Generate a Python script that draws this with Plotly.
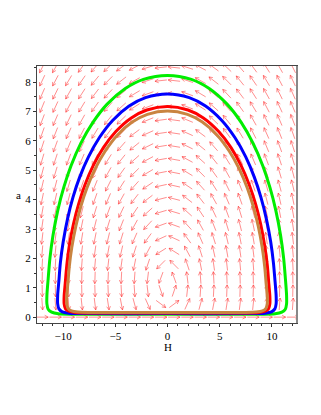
import numpy as np
import plotly.graph_objects as go

# axis view and ticks
x_range = [-12.5, 12.4]
y_range = [-0.2, 8.55]
x_ticks = [-10, -5, 0, 5, 10]
y_ticks = [0, 1, 2, 3, 4, 5, 6, 7, 8]

# direction field grid (dfieldplot style, 20 x 20)
H_grid = np.linspace(-12, 12, 20)
a_grid = np.linspace(0, 8.5, 20)
field_K, field_c, field_e = 2.2, 1.1, 0.3

# trajectories (closed loops: top -> left -> bottom -> right -> top)
green_H = [0, -2.31, -4.04, -5.78, -7.16, -8.32, -9.24, -9.93, -10.51, -10.97, -11.26, -11.43,
           -11.55, -11.55, -11.43, -11.1, -10.45, -9.0, 0,
           8.9, 10.3, 10.95, 11.28, 11.4, 11.4,
           11.29, 11.12, 10.83, 10.37, 9.80, 9.12, 8.21, 7.07, 5.7, 3.99, 2.28, 0]
green_a = [8.23, 8.095, 7.785, 7.252, 6.623, 5.908, 5.154, 4.424, 3.634, 2.778, 2.011, 1.306,
           0.75, 0.45, 0.27, 0.17, 0.115, 0.10, 0.10,
           0.10, 0.115, 0.17, 0.27, 0.45, 0.75,
           1.306, 2.011, 2.778, 3.634, 4.424, 5.154, 5.908, 6.623, 7.252, 7.785, 8.095, 8.23]

blue_H = [0, -2.10, -3.68, -5.26, -6.52, -7.57, -8.42, -9.05, -9.57, -9.99, -10.26, -10.41,
          -10.52, -10.52, -10.4, -10.08, -9.45, -8.0, 0,
          7.9, 9.33, 9.96, 10.28, 10.4, 10.4,
          10.30, 10.14, 9.88, 9.46, 8.94, 8.32, 7.49, 6.45, 5.2, 3.64, 2.08, 0]
blue_a = [7.6, 7.475, 7.189, 6.697, 6.116, 5.456, 4.759, 4.086, 3.356, 2.565, 1.857, 1.206,
          0.75, 0.45, 0.28, 0.18, 0.135, 0.12, 0.12,
          0.12, 0.135, 0.18, 0.28, 0.45, 0.75,
          1.206, 1.857, 2.565, 3.356, 4.086, 4.759, 5.456, 6.116, 6.697, 7.189, 7.475, 7.6]

red_H = [0, -1.98, -3.47, -4.95, -6.14, -7.13, -7.92, -8.51, -9.01, -9.41, -9.65, -9.80,
         -9.9, -9.9, -9.78, -9.45, -8.85, -7.5, 0,
         7.4, 8.75, 9.35, 9.68, 9.8, 9.8,
         9.70, 9.56, 9.31, 8.92, 8.43, 7.84, 7.06, 6.08, 4.9, 3.43, 1.96, 0]
red_a = [7.17, 7.052, 6.782, 6.318, 5.770, 5.147, 4.490, 3.855, 3.166, 2.420, 1.752, 1.138,
         0.72, 0.45, 0.29, 0.2, 0.155, 0.14, 0.14,
         0.14, 0.155, 0.2, 0.29, 0.45, 0.72,
         1.138, 1.752, 2.420, 3.166, 3.855, 4.490, 5.147, 5.770, 6.318, 6.782, 7.052, 7.17]

orange_H = [0, -1.93, -3.38, -4.83, -5.98, -6.95, -7.72, -8.30, -8.78, -9.17, -9.41, -9.55,
            -9.65, -9.65, -9.53, -9.2, -8.6, -7.3, 0,
            7.2, 8.5, 9.1, 9.43, 9.55, 9.55,
            9.45, 9.31, 9.07, 8.69, 8.21, 7.64, 6.88, 5.92, 4.78, 3.34, 1.91, 0]
orange_a = [7.02, 6.905, 6.640, 6.186, 5.649, 5.040, 4.396, 3.774, 3.100, 2.369, 1.716, 1.114,
            0.72, 0.45, 0.3, 0.21, 0.172, 0.16, 0.16,
            0.16, 0.172, 0.21, 0.3, 0.45, 0.72,
            1.114, 1.716, 2.369, 3.100, 3.774, 4.396, 5.040, 5.649, 6.186, 6.640, 6.905, 7.02]

# page body has an 8px margin, so the figure is shifted by that much
W, HT = 313, 407
L, R, T, B = 29, 24, 58, 92
px_H = (W - L - R) / (x_range[1] - x_range[0])
px_a = (HT - T - B) / (y_range[1] - y_range[0])

# build arrows (constant screen length, centred on grid points)
arr_len, head_len, head_ang = 12.0, 4.0, np.radians(28)
ax_x, ax_y = [], []
for a in a_grid:
    for h in H_grid:
        u = field_K * (field_c - a) * (a + field_e)
        v = a * h
        sx, sy = u * px_H, v * px_a
        n = np.hypot(sx, sy)
        if n == 0:
            continue
        ux, uy = sx / n, sy / n
        tail = (h - 0.5 * arr_len * ux / px_H, a - 0.5 * arr_len * uy / px_a)
        tip = (h + 0.5 * arr_len * ux / px_H, a + 0.5 * arr_len * uy / px_a)
        ax_x += [tail[0], tip[0], None]
        ax_y += [tail[1], tip[1], None]
        for s in (1, -1):
            c, sn = np.cos(s * head_ang), np.sin(s * head_ang)
            bx, by = -(ux * c - uy * sn), -(ux * sn + uy * c)
            ax_x += [tip[0], tip[0] + head_len * bx / px_H, None]
            ax_y += [tip[1], tip[1] + head_len * by / px_a, None]

fig = go.Figure()
fig.add_trace(go.Scatter(x=ax_x, y=ax_y, mode="lines", hoverinfo="skip",
    line=dict(color="rgba(255,30,30,0.5)", width=1)))

for hh, aa, clr in [(green_H, green_a, "#00ee00"), (blue_H, blue_a, "#0000ff"),
                    (red_H, red_a, "#ff0000"), (orange_H, orange_a, "#c98440")]:
    fig.add_trace(go.Scatter(x=hh, y=aa, mode="lines",
        line=dict(color=clr, width=3, shape="spline", smoothing=0.8)))

axis_font = dict(family="Liberation Serif, Times New Roman, serif", size=11, color="black")
fig.update_layout(
    width=W, height=HT, margin=dict(l=L, r=R, t=T, b=B),
    paper_bgcolor="white", plot_bgcolor="white", showlegend=False,
    font=axis_font,
)
fig.update_xaxes(range=x_range, tickvals=x_ticks, ticks="outside", ticklen=3, tickcolor="#333",
    showgrid=False, zeroline=False, showline=True, linecolor="#444", mirror=True,
    minor=dict(dtick=1, ticks="outside", ticklen=2, tickcolor="#333"), tickfont=axis_font)
fig.update_yaxes(range=y_range, tickvals=y_ticks, ticks="outside", ticklen=3, tickcolor="#333",
    showgrid=False, zeroline=False, showline=True, linecolor="#444", mirror=True,
    minor=dict(dtick=0.5, ticks="outside", ticklen=2, tickcolor="#333"), tickfont=axis_font)
fig.add_shape(type="line", xref="paper", yref="paper", x0=1, x1=1, y0=0, y1=1,
    line=dict(color="#888", width=2))
fig.add_annotation(text="H", xref="x", yref="paper", x=0, y=-0.095, showarrow=False,
    font=axis_font, yanchor="middle")
fig.add_annotation(text="a", xref="paper", yref="paper", x=-0.073, y=0.5, showarrow=False,
    font=axis_font, xanchor="center")

fig.write_html("out.html")
